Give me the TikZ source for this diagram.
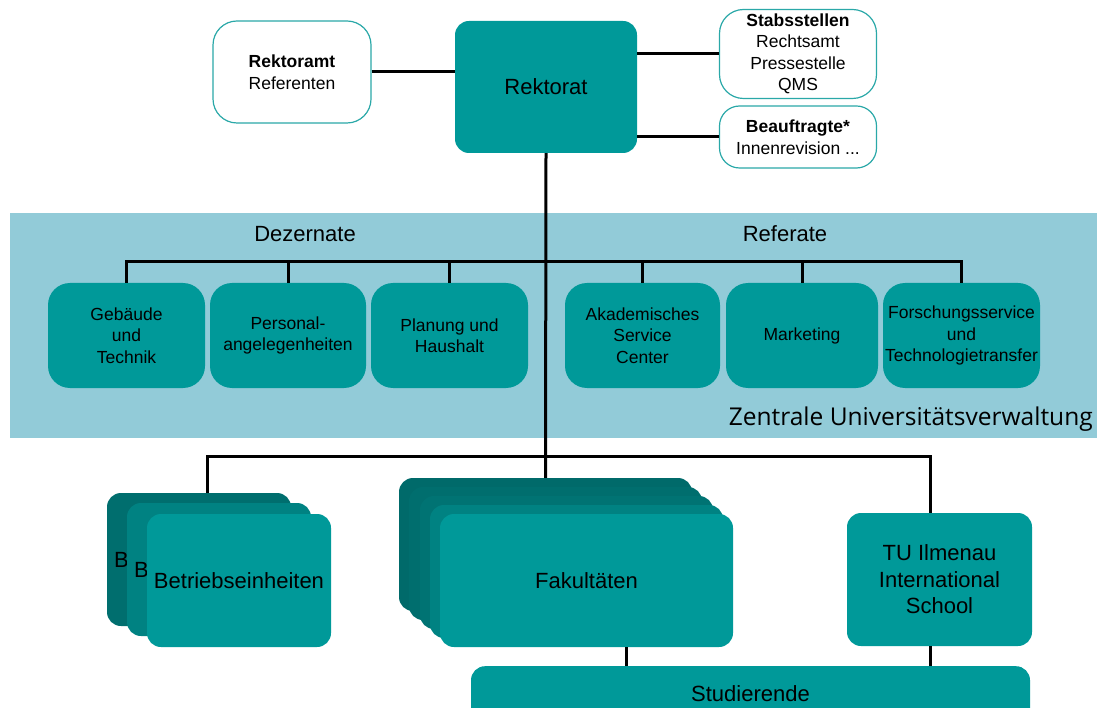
\documentclass[tikz,border=0pt]{standalone}
\usepackage{fontspec}
\setmainfont{Liberation Sans}
\newfontfamily\zuvfont{Open Sans}
\usetikzlibrary{calc}
\definecolor{tealc}{HTML}{009999}
\definecolor{bandc}{HTML}{92CBD8}
\definecolor{dkA}{HTML}{006A6A}
\definecolor{dkB}{HTML}{006E6E}
\definecolor{dkC}{HTML}{007373}
\definecolor{dkD}{HTML}{008282}
\definecolor{bordc}{HTML}{2AA8A8}
\begin{document}
\begin{tikzpicture}[x=1pt,y=-1pt,
  box/.style={draw=none, fill=tealc, rounded corners=22pt, align=center, inner sep=0pt,
    font=\fontsize{17.5}{21.5}\selectfont},
  bigbox/.style={draw=none, fill=tealc, rounded corners=14pt, align=center, inner sep=0pt,
    font=\fontsize{22}{26.5}\selectfont},
  wbox/.style={draw=bordc, line width=1.2pt, fill=white, rounded corners=24pt, align=center,
    inner sep=0pt, font=\fontsize{17.5}{21.5}\selectfont},
  conn/.style={line width=3pt, black},
  lbl/.style={font=\fontsize{22}{26}\selectfont, inner sep=0pt}
]
\useasboundingbox (0,0) rectangle (1097,708);
\clip (0,0) rectangle (1097,708);

% band
\fill[bandc] (10,213) rectangle (1097,438);
\node[lbl] (dez) at (305,234) {Dezernate};
\node[lbl] (ref) at (785,234) {Referate};
\node[anchor=base east, inner sep=0pt] (zuv) at (1093,425)
  {\resizebox{364pt}{!}{\zuvfont\fontsize{22}{26}\selectfont Zentrale Universitätsverwaltung}};

% top
\node[wbox, minimum width=158pt, minimum height=102pt] (ramt) at (292,72)
  {\textbf{Rektoramt}\\Referenten};
\node[bigbox, minimum width=182pt, minimum height=132pt] (rek) at (546,87) {Rektorat};
\node[wbox, minimum width=157pt, minimum height=89pt] (stab) at (798,54)
  {\raisebox{-2pt}{\begin{tabular}{@{}c@{}}\textbf{Stabsstellen}\\Rechtsamt\\Pressestelle\\QMS\end{tabular}}};
\node[wbox, rounded corners=20pt, minimum width=157pt, minimum height=62pt] (bea) at (798,137)
  {\textbf{Beauftragte*}\\Innenrevision ...};

% Dezernate / Referate
\node[box, minimum width=157pt, minimum height=105pt] (geb) at (126.5,335.5) {Gebäude\\und\\Technik};
\node[box, minimum width=156pt, minimum height=105pt] (per) at (288,335.5) {Personal-\\angelegenheiten};
\node[box, minimum width=157pt, minimum height=105pt] (pla) at (449.5,335.5) {Planung und\\Haushalt};
\node[box, minimum width=155pt, minimum height=105pt] (aka) at (642.5,335.5) {Akademisches\\Service\\Center};
\node[box, minimum width=152pt, minimum height=105pt] (mar) at (802,335.5) {Marketing};
\node[box, minimum width=157pt, minimum height=105pt] (fts) at (961.5,335.5) {Forschungsservice\\und\\Technologietransfer};

% Betriebseinheiten stack
\node[bigbox, fill=dkB, minimum width=184pt, minimum height=133pt] (beA) at (199,559.5) {};
\node[lbl, anchor=west] (beAl) at (114,560) {B};
\node[bigbox, fill=dkD, minimum width=184pt, minimum height=133pt] (beB) at (219,569.5) {};
\node[lbl, anchor=west] (beBl) at (134,570) {B};
\node[bigbox, minimum width=184pt, minimum height=133pt] (beC) at (239,580.5) {Betriebseinheiten};

% Fakultaeten stack
\node[bigbox, fill=dkA, minimum width=293pt, minimum height=133pt] (fA) at (545.5,544.5) {};
\node[bigbox, fill=dkB, minimum width=293pt, minimum height=133pt] (fB) at (555.5,553.5) {};
\node[bigbox, fill=dkC, minimum width=293pt, minimum height=133pt] (fC) at (566.5,562.5) {};
\node[bigbox, fill=dkD, minimum width=293pt, minimum height=133pt] (fD) at (576.5,571.5) {};
\node[bigbox, minimum width=293pt, minimum height=133pt] (fE) at (586.5,580.5) {Fakultäten};

% TU Ilmenau International School
\node[bigbox, minimum width=185pt, minimum height=133pt] (tu) at (939.5,579.5)
  {TU Ilmenau\\International\\School};

% Studierende
\node[bigbox, anchor=north, minimum width=559pt, minimum height=60pt] (stud) at (750.5,666)
  {\raisebox{6pt}{Studierende}};

% connectors
\coordinate (bus1) at (546,262);
\coordinate (bus2) at (546,456);
\draw[conn] (ramt.east) -- (ramt.east -| rek.west);
\draw[conn] (rek.east |- stab.west) -- (stab.west);
\draw[conn] (rek.east |- bea.west) -- (bea.west);
\draw[conn] (rek.south) -- (fA.north);
\draw[conn] (geb.north) |- (bus1) -| (fts.north);
\draw[conn] (per.north) -- (per.north |- bus1);
\draw[conn] (pla.north) -- (pla.north |- bus1);
\draw[conn] (aka.north) -- (aka.north |- bus1);
\draw[conn] (mar.north) -- (mar.north |- bus1);
\draw[conn] ([xshift=8pt]beA.north) |- (bus2) -| ([xshift=-9pt]tu.north);
\draw[conn] ([xshift=40pt]fE.south) -- ([xshift=40pt]fE.south |- stud.north);
\draw[conn] ([xshift=-9pt]tu.south) -- ([xshift=-9pt]tu.south |- stud.north);
\end{tikzpicture}
\end{document}
